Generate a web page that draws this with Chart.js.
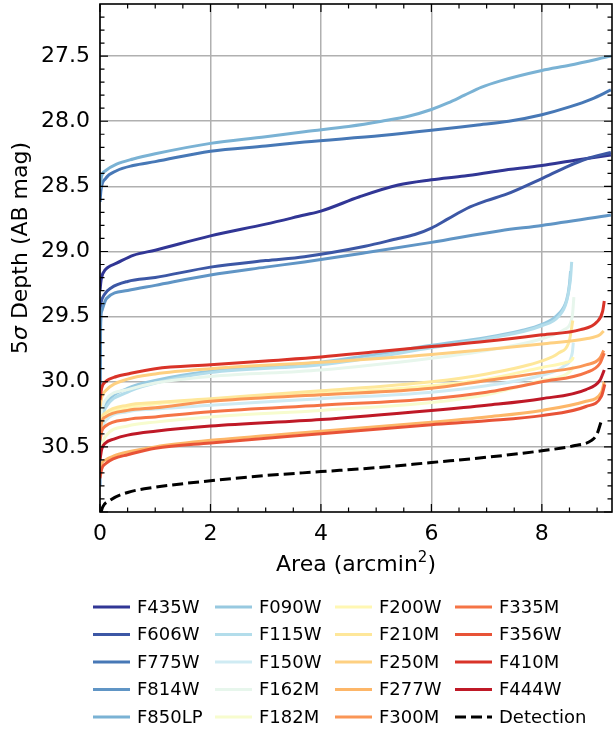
<!DOCTYPE html>
<html>
<head>
<meta charset="utf-8">
<script src="https://cdn.jsdelivr.net/npm/chart.js@4"></script>
<style>
  html, body { margin: 0; padding: 0; background: #fff; }
  #wrap { width: 616px; height: 731px; }
</style>
</head>
<body>
<div id="wrap"><canvas id="depthChart" width="616" height="731"></canvas></div>
<script>
// cumulative area (arcmin^2) reaching a given 5-sigma depth (AB mag), per filter
const f435w = [[0, 29.3], [0.02, 29.22], [0.05, 29.17], [0.15, 29.12], [0.3, 29.09], [0.6, 29.03], [1, 28.99], [2, 28.88], [3, 28.79], [3.7, 28.72], [4, 28.69], [4.7, 28.58], [5.4, 28.49], [6, 28.45], [6.6, 28.42], [7.25, 28.38], [8, 28.34], [8.6, 28.3], [9.25, 28.26]];
const f606w = [[0, 29.45], [0.02, 29.39], [0.08, 29.33], [0.2, 29.28], [0.5, 29.23], [1, 29.2], [2, 29.12], [3, 29.07], [3.7, 29.04], [4.8, 28.96], [5.4, 28.9], [5.7, 28.87], [6, 28.82], [6.3, 28.75], [6.64, 28.67], [7.0, 28.61], [7.36, 28.56], [8, 28.44], [8.45, 28.35], [8.8, 28.29], [9.25, 28.24]];
const f775w = [[0, 28.62], [0.02, 28.52], [0.1, 28.44], [0.3, 28.38], [0.6, 28.34], [1, 28.31], [2, 28.23], [3, 28.19], [3.7, 28.16], [5.1, 28.11], [6, 28.07], [6.8, 28.03], [7.4, 28.0], [8, 27.95], [8.5, 27.89], [8.9, 27.83], [9.25, 27.76]];
const f814w = [[0, 30.8], [0.01, 29.6], [0.03, 29.46], [0.12, 29.36], [0.5, 29.3], [1, 29.26], [2, 29.18], [3, 29.12], [3.7, 29.08], [4.8, 29.01], [6, 28.93], [7.25, 28.84], [8, 28.8], [9.25, 28.72]];
const f850lp = [[0, 28.52], [0.03, 28.42], [0.1, 28.38], [0.3, 28.33], [0.6, 28.29], [1, 28.25], [2, 28.17], [3, 28.12], [3.7, 28.08], [4.5, 28.04], [5.1, 28.0], [5.6, 27.96], [6, 27.91], [6.3, 27.86], [6.6, 27.8], [6.9, 27.74], [7.25, 27.69], [8, 27.61], [8.5, 27.57], [9.25, 27.5]];
const f090w = [[0, 30.32], [0.03, 30.24], [0.1, 30.17], [0.5, 30.05], [1, 29.99], [2, 29.92], [4, 29.85], [5, 29.79], [6, 29.72], [7, 29.66], [7.6, 29.61], [8, 29.56], [8.3, 29.48], [8.45, 29.37], [8.5, 29.25], [8.52, 29.15]];
const f115w = [[0, 30.36], [0.03, 30.28], [0.1, 30.2], [0.5, 30.08], [1, 30.01], [2, 29.93], [4, 29.87], [6, 29.74], [7, 29.67], [8, 29.57], [8.3, 29.5], [8.45, 29.38], [8.52, 29.2], [8.54, 29.08]];
const f150w = [[0, 30.45], [0.03, 30.37], [0.1, 30.3], [0.5, 30.23], [1, 30.21], [2, 30.18], [4, 30.13], [6, 30.08], [7, 30.03], [8, 29.95], [8.4, 29.88], [8.55, 29.78], [8.57, 29.7]];
const f162m = [[0, 30.3], [0.03, 30.22], [0.1, 30.14], [0.5, 30.06], [1, 30.01], [2, 29.96], [4, 29.91], [6, 29.82], [7, 29.76], [8, 29.67], [8.4, 29.6], [8.55, 29.5], [8.58, 29.35]];
const f182m = [[0, 30.6], [0.03, 30.5], [0.1, 30.42], [0.5, 30.34], [1, 30.31], [2, 30.27], [4, 30.22], [6, 30.16], [7, 30.1], [8, 29.99], [8.45, 29.94], [8.55, 29.9], [8.57, 29.88]];
const f200w = [[0, 30.4], [0.03, 30.32], [0.1, 30.27], [0.5, 30.2], [1, 30.17], [2, 30.14], [4, 30.09], [6, 30.03], [7, 29.98], [8, 29.89], [8.45, 29.85], [8.55, 29.83], [8.57, 29.81]];
const f210m = [[0, 30.36], [0.03, 30.28], [0.1, 30.24], [0.5, 30.18], [1, 30.16], [2, 30.13], [4, 30.07], [6, 30.0], [7, 29.94], [8, 29.84], [8.3, 29.78], [8.5, 29.68], [8.56, 29.53]];
const f250m = [[0, 30.2], [0.03, 30.12], [0.1, 30.07], [0.5, 29.98], [1, 29.94], [2, 29.9], [4, 29.85], [6, 29.79], [8, 29.71], [8.8, 29.67], [9.05, 29.64], [9.12, 29.61]];
const f277w = [[0, 30.7], [0.03, 30.63], [0.1, 30.6], [0.25, 30.57], [0.5, 30.54], [1, 30.5], [2, 30.45], [4, 30.38], [6, 30.31], [7, 30.27], [8, 30.22], [8.8, 30.15], [9.08, 30.08], [9.13, 30.0]];
const f300m = [[0, 30.4], [0.03, 30.31], [0.1, 30.27], [0.5, 30.22], [1, 30.2], [2, 30.15], [4, 30.1], [6, 30.05], [7, 29.99], [8, 29.93], [8.8, 29.87], [9.05, 29.82], [9.12, 29.76]];
const f335m = [[0, 30.45], [0.03, 30.38], [0.1, 30.34], [0.5, 30.29], [1, 30.27], [2, 30.23], [4, 30.18], [6, 30.13], [7, 30.08], [8, 30.0], [8.8, 29.93], [9.05, 29.86], [9.13, 29.78]];
const f356w = [[0, 30.74], [0.03, 30.67], [0.1, 30.63], [0.25, 30.59], [0.5, 30.56], [1, 30.51], [2, 30.47], [4, 30.4], [6, 30.33], [7, 30.3], [8, 30.26], [8.8, 30.19], [9.08, 30.11], [9.14, 30.02]];
const f410m = [[0, 30.14], [0.03, 30.05], [0.1, 30.0], [0.3, 29.96], [0.5, 29.94], [1, 29.9], [2, 29.87], [3, 29.84], [4, 29.81], [5, 29.77], [6, 29.73], [7, 29.69], [8, 29.64], [8.7, 29.6], [9.0, 29.54], [9.1, 29.46], [9.13, 29.38]];
const f444w = [[0, 30.6], [0.03, 30.52], [0.1, 30.47], [0.25, 30.44], [0.5, 30.41], [1, 30.38], [2, 30.34], [4, 30.29], [6, 30.22], [7, 30.18], [8, 30.13], [8.8, 30.06], [9.05, 29.99], [9.13, 29.91]];
const detection = [[0.02, 31.0], [0.05, 30.96], [0.18, 30.91], [0.5, 30.85], [1, 30.81], [2, 30.76], [3, 30.72], [4, 30.69], [5, 30.66], [6, 30.62], [7, 30.58], [8, 30.53], [8.6, 30.49], [8.9, 30.45], [9.0, 30.4], [9.07, 30.31]];

const filterNames = ['F435W', 'F606W', 'F775W', 'F814W', 'F850LP', 'F090W', 'F115W', 'F150W', 'F162M',
  'F182M', 'F200W', 'F210M', 'F250M', 'F277W', 'F300M', 'F335M', 'F356W', 'F410M', 'F444W'];
const filterCurves = [f435w, f606w, f775w, f814w, f850lp, f090w, f115w, f150w, f162m,
  f182m, f200w, f210m, f250m, f277w, f300m, f335m, f356w, f410m, f444w];

const xTicks = [0, 2, 4, 6, 8];
const yTicks = [27.5, 28.0, 28.5, 29.0, 29.5, 30.0, 30.5];
const xRange = [0, 9.27];
const yRange = [27.1, 31.0];

const FONT = "'DejaVu Sans', sans-serif";

// RdYlBu_r colour map, linear between the stops
const rdylbuR = ['#313695', '#4575b4', '#74add1', '#abd9e9', '#e0f3f8', '#ffffbf',
  '#fee090', '#fdae61', '#f46d43', '#d73027', '#a50026'];
function hexToRgb(h) {
  return [parseInt(h.slice(1, 3), 16), parseInt(h.slice(3, 5), 16), parseInt(h.slice(5, 7), 16)];
}
function cmap(t) {
  const p = t * (rdylbuR.length - 1);
  const i = Math.min(rdylbuR.length - 2, Math.floor(p));
  const f = p - i;
  const a = hexToRgb(rdylbuR[i]), b = hexToRgb(rdylbuR[i + 1]);
  const c = a.map((v, k) => Math.round(v + (b[k] - v) * f));
  return 'rgb(' + c.join(',') + ')';
}

const datasets = filterCurves.map((curve, i) => ({
  label: filterNames[i],
  data: curve.map(p => ({ x: p[0], y: p[1] })),
  borderColor: cmap(i / filterNames.length),
  borderWidth: 3,
  pointRadius: 0,
  cubicInterpolationMode: 'monotone',
  order: filterNames.length - i + 1
}));
datasets.push({
  label: 'Detection',
  data: detection.map(p => ({ x: p[0], y: p[1] })),
  borderColor: '#000',
  borderWidth: 3,
  borderDash: [11, 5],
  pointRadius: 0,
  cubicInterpolationMode: 'monotone',
  order: 0
});

// frame with inward ticks on all four sides, axis titles and the legend grid
const framePlugin = {
  id: 'frame',
  afterDraw(chart) {
    const ctx = chart.ctx;
    const a = chart.chartArea;
    const xs = chart.scales.x, ys = chart.scales.y;
    ctx.save();
    ctx.strokeStyle = '#000';
    ctx.lineWidth = 1.2;
    const tick = (px, major, vertical) => {
      const len = major ? 8 : 4.5;
      ctx.beginPath();
      if (vertical) {
        ctx.moveTo(px, a.bottom); ctx.lineTo(px, a.bottom - len);
        ctx.moveTo(px, a.top); ctx.lineTo(px, a.top + len);
      } else {
        ctx.moveTo(a.left, px); ctx.lineTo(a.left + len, px);
        ctx.moveTo(a.right, px); ctx.lineTo(a.right - len, px);
      }
      ctx.stroke();
    };
    for (let v = 0; v <= xRange[1] + 1e-6; v += 0.5) {
      tick(xs.getPixelForValue(v), Math.abs(v % 2) < 1e-6, true);
    }
    for (let k = 272; k <= 310; k++) {
      const v = k / 10;
      tick(ys.getPixelForValue(v), k % 5 === 0, false);
    }
    ctx.lineWidth = 1.6;
    ctx.strokeRect(a.left, a.top, a.right - a.left, a.bottom - a.top);

    // axis titles
    ctx.fillStyle = '#000';
    ctx.textBaseline = 'alphabetic';
    const titleFont = '22px ' + FONT;
    const titleItalic = 'italic 22px ' + FONT;
    ctx.save();
    ctx.translate(27, 248);
    ctx.rotate(-Math.PI / 2);
    const parts = [['5', titleFont], ['\u03c3', titleItalic], [' Depth (AB mag)', titleFont]];
    let total = 0;
    parts.forEach(p => { ctx.font = p[1]; total += ctx.measureText(p[0]).width; });
    let cx = -total / 2;
    parts.forEach(p => { ctx.font = p[1]; ctx.fillText(p[0], cx, 0); cx += ctx.measureText(p[0]).width; });
    ctx.restore();

    const xParts = [['Area (arcmin', titleFont, 0], ['2', '15px ' + FONT, -9], [')', titleFont, 0]];
    total = 0;
    xParts.forEach(p => { ctx.font = p[1]; total += ctx.measureText(p[0]).width; });
    cx = (a.left + a.right) / 2 - total / 2;
    xParts.forEach(p => { ctx.font = p[1]; ctx.fillText(p[0], cx, 571 + p[2]); cx += ctx.measureText(p[0]).width; });

    // legend, five entries per column
    const colLine = [93, 215, 335, 455];
    const rowY = [607, 634.5, 662, 689.5, 717];
    ctx.font = '18px ' + FONT;
    ctx.textBaseline = 'middle';
    chart.data.datasets.forEach((ds, i) => {
      const col = Math.floor(i / 5), row = i % 5;
      const x0 = colLine[col], y = rowY[row];
      ctx.beginPath();
      ctx.strokeStyle = ds.borderColor;
      ctx.lineWidth = 3;
      ctx.setLineDash(ds.borderDash || []);
      ctx.moveTo(x0, y);
      ctx.lineTo(x0 + 37, y);
      ctx.stroke();
      ctx.setLineDash([]);
      ctx.fillText(ds.label, x0 + 44, y + 1);
    });
    ctx.restore();
  }
};

new Chart(document.getElementById('depthChart'), {
  type: 'line',
  data: { datasets },
  options: {
    responsive: false,
    animation: false,
    devicePixelRatio: 1,
    layout: { padding: { left: 0, top: 4, right: 4, bottom: 0 } },
    plugins: { legend: { display: false }, tooltip: { enabled: false } },
    scales: {
      x: {
        type: 'linear',
        min: xRange[0],
        max: xRange[1],
        afterBuildTicks: s => { s.ticks = xTicks.map(v => ({ value: v })); },
        afterFit: s => { s.height = 219; s.paddingLeft = 0; s.paddingRight = 0; },
        grid: { color: '#b0b0b0', lineWidth: 1.5, drawTicks: false },
        border: { display: false },
        ticks: { color: '#000', padding: 9, font: { family: FONT, size: 22 }, maxRotation: 0 }
      },
      y: {
        type: 'linear',
        reverse: true,
        min: yRange[0],
        max: yRange[1],
        afterBuildTicks: s => { s.ticks = yTicks.map(v => ({ value: v })); },
        afterFit: s => { s.width = 100; s.paddingTop = 0; s.paddingBottom = 0; },
        grid: { color: '#b0b0b0', lineWidth: 1.5, drawTicks: false },
        border: { display: false },
        ticks: { color: '#000', padding: 10, font: { family: FONT, size: 22 }, callback: v => v.toFixed(1) }
      }
    }
  },
  plugins: [framePlugin]
});
</script>
</body>
</html>
